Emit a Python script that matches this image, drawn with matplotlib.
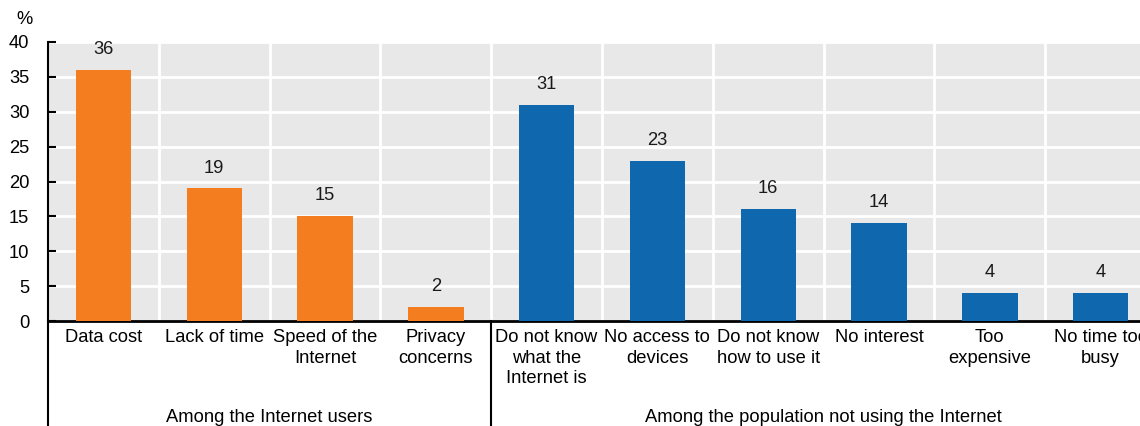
import matplotlib
matplotlib.use("Agg")
import matplotlib.pyplot as plt
from matplotlib import font_manager as fm
from matplotlib.lines import Line2D

names = {f.name for f in fm.fontManager.ttflist}
fam = [f for f in ["Liberation Sans Narrow", "Liberation Sans", "DejaVu Sans"] if f in names]
plt.rcParams['font.family'] = fam

categories = ["Data cost", "Lack of time", "Speed of the\nInternet", "Privacy\nconcerns",
              "Do not know\nwhat the\nInternet is", "No access to\ndevices", "Do not know\nhow to use it",
              "No interest", "Too\nexpensive", "No time too\nbusy"]
values = [36, 19, 15, 2, 31, 23, 16, 14, 4, 4]
groups = ["Among the Internet users", "Among the population not using the Internet"]
group_sizes = [4, 6]
group_colors = ["#F47D20", "#0F68AE"]
yticks = [0, 5, 10, 15, 20, 25, 30, 35, 40]

FS = 13.2

fig = plt.figure(figsize=(11.4, 4.26), dpi=100)
ax = fig.add_axes([48/1140, 1-321/426, 1108/1140, 279/426])
ax.set_facecolor("#E8E8E8")

colors = []
for g, n in enumerate(group_sizes):
    colors += [group_colors[g]] * n
x = list(range(len(categories)))
ax.bar(x, values, width=0.5, color=colors, zorder=3)
for xi, v in zip(x, values):
    ax.annotate(str(v), (xi, v), xytext=(0, 11.5), textcoords="offset points",
                ha="center", va="baseline", fontsize=FS, color="#1a1a1a")

ax.set_xlim(-0.5, len(categories) - 0.5)
ax.set_ylim(0, 40)
ax.set_yticks(yticks)
ax.set_yticklabels([str(t) for t in yticks], fontsize=FS)
ax.set_xticks(x)
ax.set_xticklabels(categories, fontsize=FS, linespacing=1.25)
ax.set_xticks([i + 0.5 for i in x[:-1]], minor=True)
ax.tick_params(axis="x", which="both", length=0, pad=6)
ax.tick_params(axis="y", direction="in", length=6, width=1.5, pad=13.5)
ax.grid(axis="y", color="white", linewidth=2, zorder=1)
ax.grid(axis="x", which="minor", color="white", linewidth=2, zorder=1)
ax.set_axisbelow(True)
for s in ["top", "right"]:
    ax.spines[s].set_visible(False)
ax.spines["left"].set_linewidth(1.5)
ax.spines["bottom"].set_linewidth(2)

# group separators and labels
trans = ax.get_xaxis_transform()
start = -0.5
for g, n in enumerate(group_sizes):
    ax.add_line(Line2D([start, start], [0, -0.4], transform=trans, color="black",
                       linewidth=1.5, clip_on=False))
    ax.text(start + n / 2, -0.345, groups[g], transform=trans, ha="center", va="center",
            fontsize=FS)
    start += n

ax.text(-0.021, 1.08, "%", transform=ax.transAxes, ha="center", va="center", fontsize=FS)

fig.savefig("out.png", dpi=100)
